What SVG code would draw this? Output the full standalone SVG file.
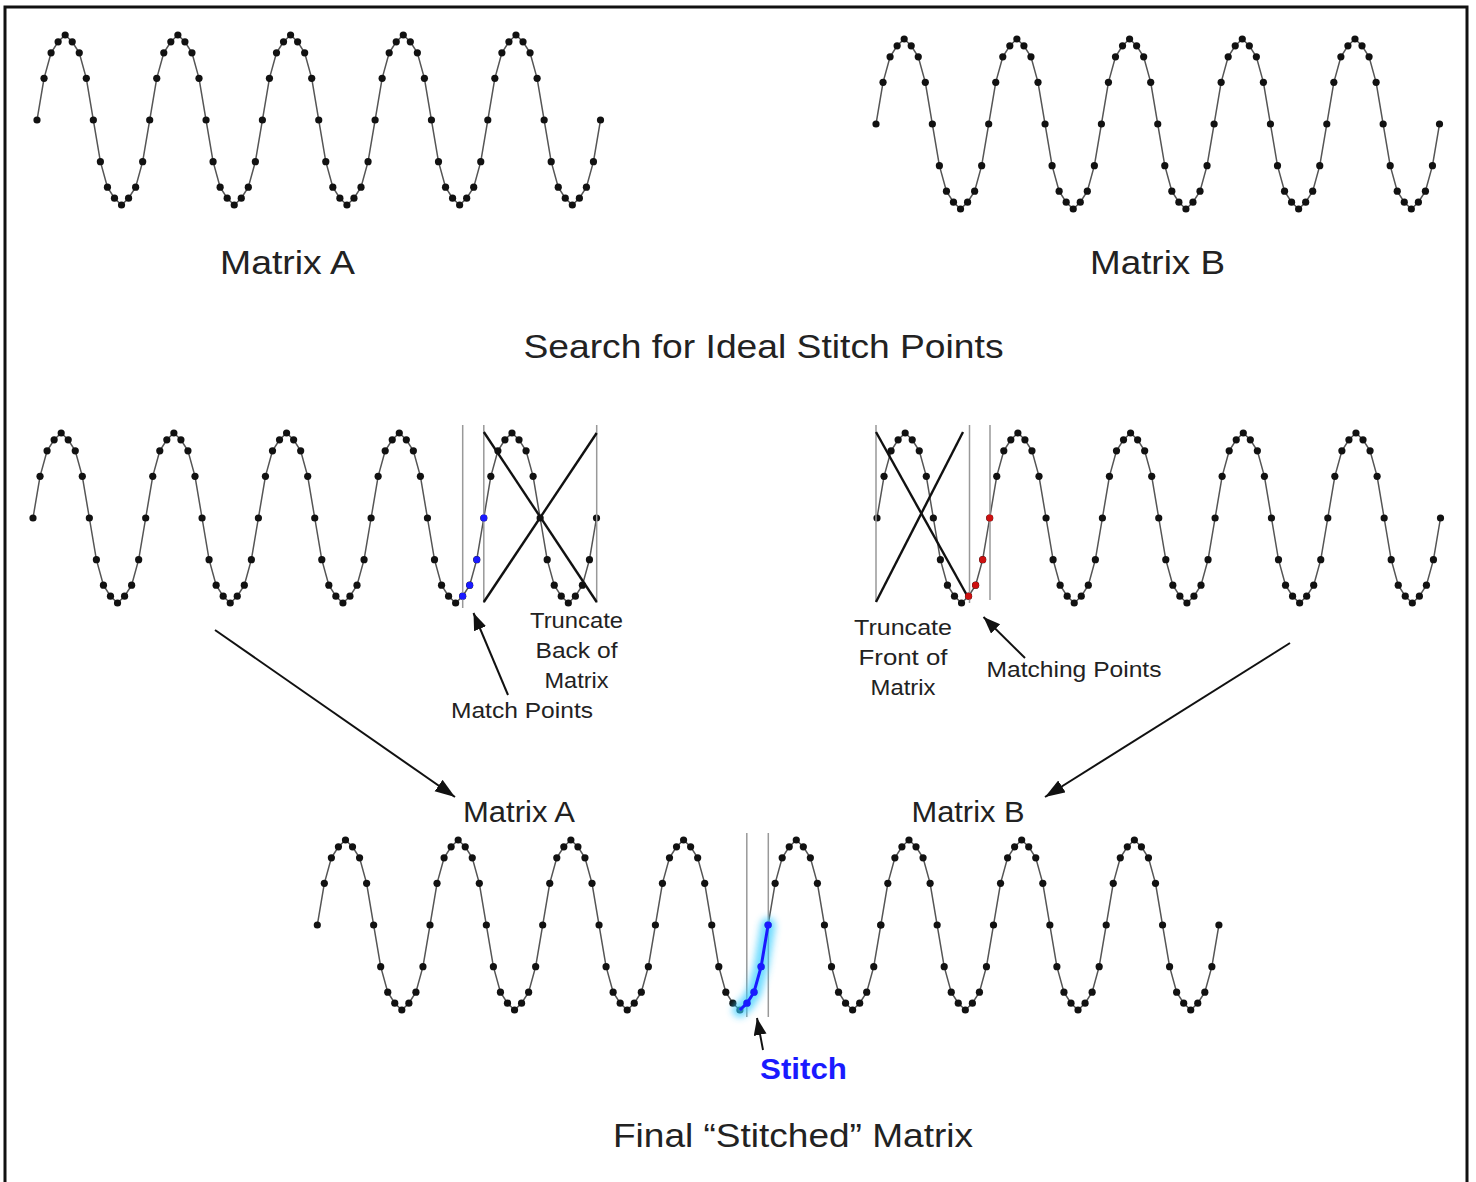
<svg xmlns="http://www.w3.org/2000/svg" width="1476" height="1182" viewBox="0 0 1476 1182">
<style>
.ln{fill:none;stroke:#555;stroke-width:1.5}
.dt{fill:#111}
.bd{fill:#1a1aff}
.rd{fill:#cc1111}
.t{font-family:"Liberation Sans",Arial,sans-serif;fill:#222;text-anchor:middle}
.big{font-size:33px}
.mid{font-size:30px}
.sm{font-size:22px}
.vl{stroke:#999;stroke-width:1.5}
.xl{stroke:#111;stroke-width:2.4}
.ar{stroke:#111;stroke-width:2;fill:none}
</style>
<defs>
<marker id="ah" markerUnits="userSpaceOnUse" markerWidth="22" markerHeight="16" refX="20" refY="7" orient="auto">
<path d="M0,0 L20,7 L0,14 z" fill="#111"/>
</marker>
<marker id="ahs" markerUnits="userSpaceOnUse" markerWidth="20" markerHeight="16" refX="17" refY="6.5" orient="auto">
<path d="M0,0 L17,6.5 L0,13 z" fill="#111"/>
</marker>
<filter id="glow" x="-50%" y="-50%" width="200%" height="200%">
<feGaussianBlur stdDeviation="3.5"/>
</filter>
<g id="per">
<path class="ln" d="M0,0 L7.04,-41.65 L14.09,-67.15 L21.13,-78.2 L28.18,-85 L35.22,-78.2 L42.26,-67.15 L49.31,-41.65 L56.35,0 L63.39,41.65 L70.44,67.15 L77.48,78.2 L84.53,85 L91.57,78.2 L98.62,67.15 L105.66,41.65 L112.7,0"/>
<g class="dt">
<circle cx="0" cy="0" r="3.6"/><circle cx="7.04" cy="-41.65" r="3.6"/><circle cx="14.09" cy="-67.15" r="3.6"/><circle cx="21.13" cy="-78.2" r="3.6"/>
<circle cx="28.18" cy="-85" r="3.6"/><circle cx="35.22" cy="-78.2" r="3.6"/><circle cx="42.26" cy="-67.15" r="3.6"/><circle cx="49.31" cy="-41.65" r="3.6"/>
<circle cx="56.35" cy="0" r="3.6"/><circle cx="63.39" cy="41.65" r="3.6"/><circle cx="70.44" cy="67.15" r="3.6"/><circle cx="77.48" cy="78.2" r="3.6"/>
<circle cx="84.53" cy="85" r="3.6"/><circle cx="91.57" cy="78.2" r="3.6"/><circle cx="98.62" cy="67.15" r="3.6"/><circle cx="105.66" cy="41.65" r="3.6"/>
</g>
</g>
<g id="w5">
<use href="#per"/><use href="#per" x="112.7"/><use href="#per" x="225.4"/><use href="#per" x="338.1"/><use href="#per" x="450.8"/>
<circle class="dt" cx="563.5" cy="0" r="3.6"/>
</g>
</defs>

<rect x="5" y="7" width="1462" height="1190" fill="#fff" stroke="#111" stroke-width="3"/>

<g id="matrixA-top">
<use href="#w5" x="37" y="120"/>
<text class="t big" x="287.5" y="274" textLength="135" lengthAdjust="spacingAndGlyphs">Matrix A</text>
</g>

<g id="matrixB-top">
<use href="#w5" x="876" y="124"/>
<text class="t big" x="1157.5" y="274" textLength="135" lengthAdjust="spacingAndGlyphs">Matrix B</text>
</g>

<g id="search-title">
<text class="t big" x="763.5" y="358" textLength="480" lengthAdjust="spacingAndGlyphs">Search for Ideal Stitch Points</text>
</g>

<g id="matrixA-mid">
<use href="#w5" x="33" y="518"/>
<line class="vl" x1="462.7" y1="425" x2="462.7" y2="608"/>
<line class="vl" x1="483.8" y1="425" x2="483.8" y2="603"/>
<line class="vl" x1="596.7" y1="425" x2="596.7" y2="603"/>
<line class="xl" x1="483.8" y1="432" x2="596.7" y2="602"/>
<line class="xl" x1="483.8" y1="602" x2="596.7" y2="433"/>
<g class="bd">
<circle cx="462.7" cy="596.2" r="3.4"/><circle cx="469.7" cy="585.2" r="3.4"/><circle cx="476.8" cy="559.7" r="3.4"/><circle cx="483.8" cy="518" r="3.4"/>
</g>
<text class="t sm" x="576.5" y="628" textLength="93" lengthAdjust="spacingAndGlyphs">Truncate</text>
<text class="t sm" x="576.5" y="658" textLength="82" lengthAdjust="spacingAndGlyphs">Back of</text>
<text class="t sm" x="576.5" y="688" textLength="64" lengthAdjust="spacingAndGlyphs">Matrix</text>
<text class="t sm" x="522" y="718" textLength="142" lengthAdjust="spacingAndGlyphs">Match Points</text>
</g>

<g id="matrixB-mid">
<use href="#w5" x="877" y="518"/>
<line class="vl" x1="876" y1="425" x2="876" y2="602"/>
<line class="vl" x1="969.5" y1="425" x2="969.5" y2="603"/>
<line class="vl" x1="990" y1="425" x2="990" y2="600"/>
<line class="xl" x1="876" y1="432" x2="969" y2="599"/>
<line class="xl" x1="876" y1="602" x2="963" y2="432"/>
<g class="rd">
<circle cx="968.6" cy="596.2" r="3.4"/><circle cx="975.6" cy="585.2" r="3.4"/><circle cx="982.7" cy="559.7" r="3.4"/><circle cx="989.7" cy="518" r="3.4"/>
</g>
<text class="t sm" x="903" y="635" textLength="98" lengthAdjust="spacingAndGlyphs">Truncate</text>
<text class="t sm" x="903" y="665" textLength="89" lengthAdjust="spacingAndGlyphs">Front of</text>
<text class="t sm" x="903" y="695" textLength="65" lengthAdjust="spacingAndGlyphs">Matrix</text>
<text class="t sm" x="1074" y="677" textLength="175" lengthAdjust="spacingAndGlyphs">Matching Points</text>
</g>

<g id="labels-mid">
<text class="t mid" x="519" y="822" textLength="112" lengthAdjust="spacingAndGlyphs">Matrix A</text>
<text class="t mid" x="968" y="822" textLength="113" lengthAdjust="spacingAndGlyphs">Matrix B</text>
</g>

<g id="final-matrix">
<use href="#w5" x="317.3" y="925"/>
<use href="#per" x="880.8" y="925"/><use href="#per" x="993.5" y="925"/><use href="#per" x="1106.2" y="925"/>
<circle class="dt" cx="1218.9" cy="925" r="3.6"/>
<line class="vl" x1="746.8" y1="833" x2="746.8" y2="1017"/>
<line class="vl" x1="768.3" y1="833" x2="768.3" y2="1017"/>
<polyline points="739.9,1010 747,1003.2 754,992.2 761.1,966.7 768.1,925" fill="none" stroke="#33ccff" stroke-width="15" stroke-linecap="round" opacity="0.7" filter="url(#glow)"/>
<polyline points="739.9,1010 747,1003.2 754,992.2 761.1,966.7 768.1,925" fill="none" stroke="#1a1aff" stroke-width="3"/>
<g class="bd">
<circle cx="747" cy="1003.2" r="3.6"/><circle cx="754" cy="992.2" r="3.6"/><circle cx="761.1" cy="966.7" r="3.6"/><circle cx="768.1" cy="925" r="3.6"/>
</g>
<text x="803.5" y="1079" font-family="Liberation Sans, Arial, sans-serif" font-size="30" font-weight="bold" fill="#1a1aff" text-anchor="middle" textLength="87" lengthAdjust="spacingAndGlyphs">Stitch</text>
<text class="t big" x="793" y="1147" textLength="360" lengthAdjust="spacingAndGlyphs">Final “Stitched” Matrix</text>
</g>

<g id="connectors">
<line class="ar" x1="215" y1="630" x2="455" y2="797" marker-end="url(#ah)"/>
<line class="ar" x1="1290" y1="643" x2="1045" y2="797" marker-end="url(#ah)"/>
<line class="ar" x1="508" y1="695" x2="473.5" y2="613" marker-end="url(#ahs)"/>
<line class="ar" x1="1025" y1="658" x2="983.5" y2="617" marker-end="url(#ahs)"/>
<line class="ar" x1="763" y1="1050" x2="757" y2="1018" marker-end="url(#ahs)"/>
</g>
</svg>
